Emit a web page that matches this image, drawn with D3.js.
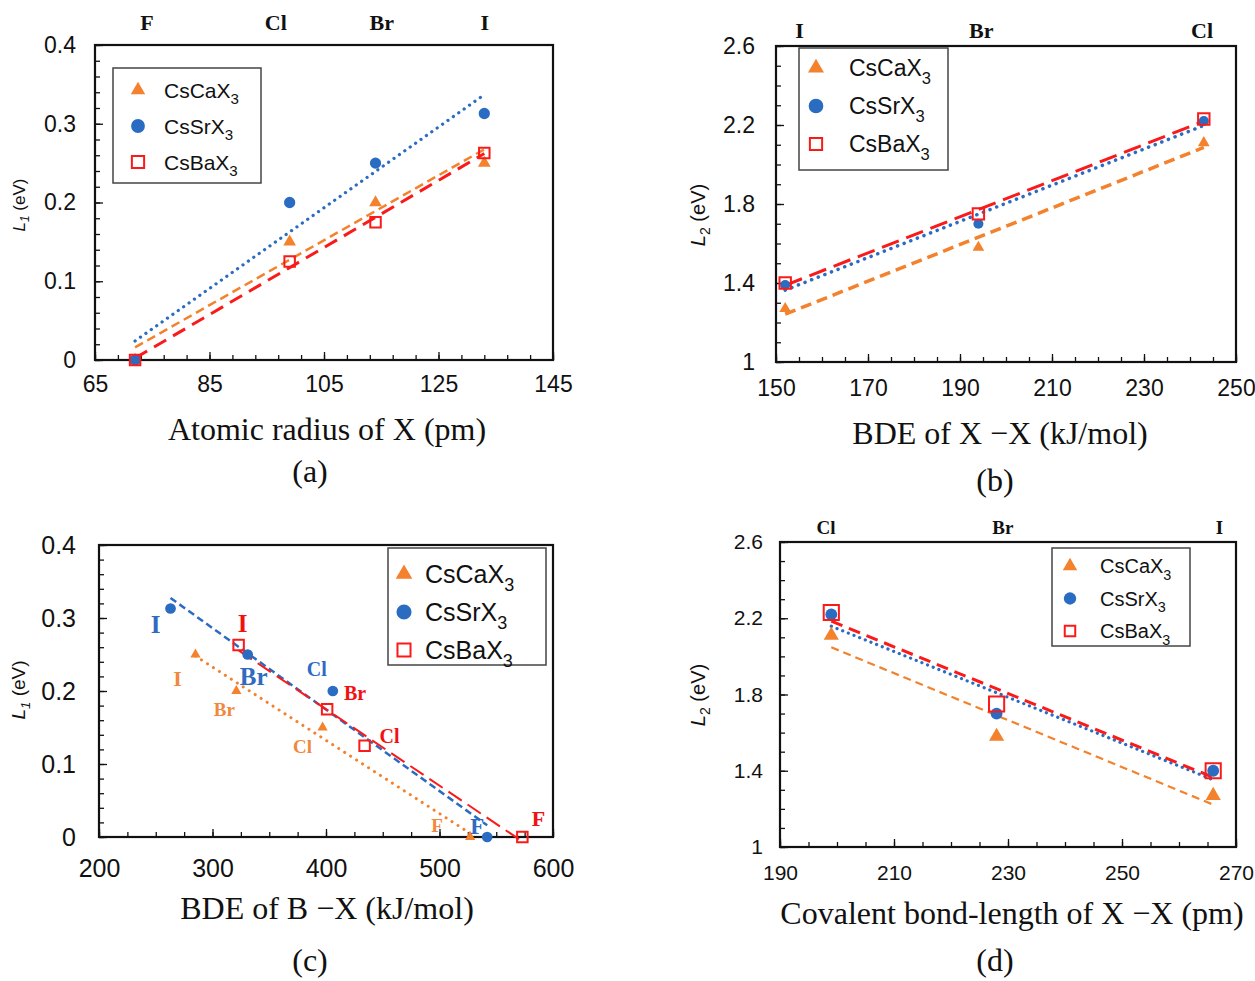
<!DOCTYPE html>
<html>
<head>
<meta charset="utf-8">
<script src="https://cdn.jsdelivr.net/npm/d3@7"></script>
<style>
  body { margin: 0; background: #fff; }
  svg { display: block; }
</style>
</head>
<body>
<div id="fig"></div>
<script>
// ---- data ----
const seriesNames = ['CsCaX', 'CsSrX', 'CsBaX'];

// (a) L1 vs atomic radius, order F, Cl, Br, I
const halogensFI = ['F', 'Cl', 'Br', 'I'];
const atomicRadius = [72, 99, 114, 133];
const L1Ca = [0, 0.15, 0.20, 0.25];
const L1Sr = [0, 0.20, 0.25, 0.313];
const L1Ba = [0, 0.125, 0.175, 0.263];

// (b) L2 vs BDE of X-X, order I, Br, Cl
const halogensIC = ['I', 'Br', 'Cl'];
const bdeXX = [152, 194, 243];
const L2Ca = [1.27, 1.58, 2.11];
const L2Sr = [1.39, 1.70, 2.22];
const L2Ba = [1.40, 1.75, 2.23];

// (c) L1 vs BDE of B-X, order F, Cl, Br, I
const bdeBXCa = [527, 397, 321, 285];
const bdeBXSr = [542, 406, 331, 263];
const bdeBXBa = [573, 434, 401, 323];

// (d) L2 vs covalent bond length, order Cl, Br, I
const halogensCI = ['Cl', 'Br', 'I'];
const bondLength = [199, 228, 266];
const L2CaD = [2.11, 1.58, 1.27];
const L2SrD = [2.22, 1.70, 1.40];
const L2BaD = [2.23, 1.75, 1.40];

// top-axis element label positions
const topTicksA = [74, 96.5, 115, 133];
const topTicksB = [155, 194.5, 242.5];
const topTicksD = [198, 229, 267];

// axis ticks
const xTicksA = [65, 85, 105, 125, 145];
const xTicksB = [150, 170, 190, 210, 230, 250];
const xTicksC = [200, 300, 400, 500, 600];
const xTicksD = [190, 210, 230, 250, 270];
const yTicksL1 = [0, 0.1, 0.2, 0.3, 0.4];
const yTicksL2 = [1, 1.4, 1.8, 2.2, 2.6];

// ---- styles ----
const ORANGE = '#f4812c', BLUE = '#2a6cc2', RED = '#fa1a1a';
const SANS = '"Liberation Sans", Arial, sans-serif';
const SERIF = '"Liberation Serif", "Times New Roman", serif';

const svg = d3.select('#fig').append('svg')
  .attr('width', 1255).attr('height', 981);

function fit(xs, ys) {
  const mx = d3.mean(xs), my = d3.mean(ys);
  let sxy = 0, sxx = 0;
  xs.forEach((v, i) => { sxy += (v - mx) * (ys[i] - my); sxx += (v - mx) * (v - mx); });
  const b = sxy / sxx;
  return v => my + b * (v - mx);
}

const fmt = d => String(+d.toFixed(2));

function marker(sel, kind, size, color) {
  const types = { tri: d3.symbolTriangle, cir: d3.symbolCircle, sq: d3.symbolSquare };
  sel.attr('d', d3.symbol().type(types[kind]).size(size))
    .attr('fill', kind === 'sq' ? 'none' : color)
    .attr('stroke', kind === 'sq' ? color : 'none')
    .attr('stroke-width', 2);
}

function panel(c) {
  const g = svg.append('g');
  const x = d3.scaleLinear().domain(c.xDomain).range([c.left, c.right]);
  const y = d3.scaleLinear().domain(c.yDomain).range([c.bottom, c.top]);

  // minor + major inner ticks
  const noDomain = a => a.select('.domain').remove();
  g.append('g').attr('transform', `translate(0,${c.bottom})`)
    .call(d3.axisBottom(x).tickValues(c.xMinor).tickSize(-5).tickFormat(''))
    .call(noDomain);
  g.append('g').attr('transform', `translate(${c.left},0)`)
    .call(d3.axisLeft(y).tickValues(c.yMinor).tickSize(-5).tickFormat(''))
    .call(noDomain);
  const xa = g.append('g').attr('transform', `translate(0,${c.bottom})`)
    .call(d3.axisBottom(x).tickValues(c.xTicks).tickSize(-8).tickPadding(c.xPad).tickFormat(fmt))
    .call(noDomain);
  const ya = g.append('g').attr('transform', `translate(${c.left},0)`)
    .call(d3.axisLeft(y).tickValues(c.yTicks).tickSize(-8).tickPadding(c.yPad).tickFormat(fmt))
    .call(noDomain);
  g.selectAll('.tick line').attr('stroke', '#111').attr('stroke-width', 1.3);
  [xa, ya].forEach(a => a.selectAll('text')
    .attr('font-family', SANS).attr('font-size', c.tickFont).attr('fill', '#111'));

  // top element labels
  const ta = g.append('g').attr('transform', `translate(0,${c.topY})`)
    .call(d3.axisTop(x).tickValues(c.topTicks).tickSize(0).tickPadding(0)
      .tickFormat((d, i) => c.topNames[i]))
    .call(noDomain);
  ta.selectAll('text').attr('font-family', SERIF).attr('font-weight', 'bold')
    .attr('font-size', c.topFont).attr('fill', '#111');

  // frame
  g.append('rect').attr('x', c.left).attr('y', c.top)
    .attr('width', c.right - c.left).attr('height', c.bottom - c.top)
    .attr('fill', 'none').attr('stroke', '#111').attr('stroke-width', 2.2);

  // trend lines
  c.series.forEach(s => {
    const f = fit(s.xs, s.ys);
    const ext = d3.extent(s.xs);
    g.append('path')
      .attr('d', d3.line().x(v => x(v)).y(v => y(f(v)))(ext))
      .attr('fill', 'none').attr('stroke', s.color)
      .attr('stroke-width', s.lw).attr('stroke-dasharray', s.dash)
      .attr('stroke-linecap', s.dot ? 'round' : 'butt');
  });

  // markers
  c.series.forEach(s => {
    g.append('g').selectAll('path').data(s.xs).join('path')
      .attr('transform', (v, i) => `translate(${x(v)},${y(s.ys[i])})`)
      .call(marker, s.kind, s.size, s.color);
  });

  // point annotations (panel c)
  if (c.notes) {
    c.series.forEach((s, k) => {
      const n = c.notes[k];
      g.append('g').selectAll('text').data(s.xs).join('text')
        .attr('x', (v, i) => x(v) + n.dx[i])
        .attr('y', (v, i) => y(s.ys[i]) + n.dy[i])
        .attr('text-anchor', 'middle').attr('dominant-baseline', 'central')
        .attr('font-family', SERIF).attr('font-weight', 'bold')
        .attr('font-size', (v, i) => n.fs[i]).attr('fill', n.color)
        .text((v, i) => halogensFI[i]);
    });
  }

  // legend
  const L = c.legend;
  g.append('rect').attr('x', L.x).attr('y', L.y).attr('width', L.w).attr('height', L.h)
    .attr('fill', '#fff').attr('stroke', '#444').attr('stroke-width', 1.5);
  c.series.forEach((s, i) => {
    const cy = L.y + L.first + i * L.step;
    g.append('path').attr('transform', `translate(${L.x + L.mx},${cy})`)
      .call(marker, s.kind, L.msize[i], s.color);
    const t = g.append('text').attr('x', L.x + L.tx).attr('y', cy + L.font * 0.36)
      .attr('font-family', SANS).attr('font-size', L.font).attr('fill', '#111');
    t.append('tspan').text(seriesNames[i]);
    t.append('tspan').attr('dy', L.font * 0.32).attr('font-size', L.font * 0.72).text('3');
  });

  // axis titles
  g.append('text').attr('x', c.xTitle[0]).attr('y', c.xTitle[1]).attr('text-anchor', 'middle')
    .attr('font-family', SERIF).attr('font-size', c.titleFont).attr('fill', '#111')
    .text(c.xLabel);
  g.append('text').attr('x', c.tag[0]).attr('y', c.tag[1]).attr('text-anchor', 'middle')
    .attr('font-family', SERIF).attr('font-size', 32).attr('fill', '#111')
    .text(c.tagText);
  const yt = g.append('text')
    .attr('transform', `translate(${c.yTitle[0]},${c.yTitle[1]}) rotate(-90)`)
    .attr('text-anchor', 'middle').attr('font-family', SANS)
    .attr('font-size', c.yFont).attr('fill', '#111');
  yt.append('tspan').attr('font-style', 'italic').text('L');
  yt.append('tspan').attr('font-style', c.subItalic ? 'italic' : 'normal')
    .attr('font-size', c.yFont * 0.7).attr('dy', c.yFont * 0.25).text(c.ySub);
  yt.append('tspan').attr('dy', -c.yFont * 0.25).text(' (eV)');
}

const dotted = '0.1 6.5';

// (a)
panel({
  left: 95, right: 553, top: 45, bottom: 360,
  xDomain: [65, 145], yDomain: [0, 0.4],
  xTicks: xTicksA, yTicks: yTicksL1,
  xMinor: d3.range(65, 145.1, 4), yMinor: d3.range(0, 0.401, 0.02),
  xPad: 16, yPad: 19, tickFont: 23,
  topTicks: topTicksA, topNames: halogensFI, topY: 30, topFont: 22,
  series: [
    { xs: atomicRadius, ys: L1Ca, kind: 'tri', size: 70, color: ORANGE, lw: 2.5, dash: '9 5' },
    { xs: atomicRadius, ys: L1Sr, kind: 'cir', size: 100, color: BLUE, lw: 3.2, dash: dotted, dot: true },
    { xs: atomicRadius, ys: L1Ba, kind: 'sq', size: 110, color: RED, lw: 3, dash: '14 8' }
  ],
  legend: { x: 113, y: 68, w: 148, h: 115, first: 22, step: 36, mx: 25, tx: 51, font: 21, msize: [90, 150, 150] },
  xLabel: 'Atomic radius of X (pm)', xTitle: [327, 440], titleFont: 32,
  tag: [310, 482], tagText: '(a)',
  yTitle: [25, 205], yFont: 17, ySub: '1', subItalic: true
});

// (b)
panel({
  left: 776, right: 1236, top: 46, bottom: 362,
  xDomain: [150, 250], yDomain: [1, 2.6],
  xTicks: xTicksB, yTicks: yTicksL2,
  xMinor: d3.range(150, 250.1, 5), yMinor: d3.range(1, 2.61, 0.1),
  xPad: 18, yPad: 21, tickFont: 23,
  topTicks: topTicksB, topNames: halogensIC, topY: 38, topFont: 22,
  series: [
    { xs: bdeXX, ys: L2Ca, kind: 'tri', size: 60, color: ORANGE, lw: 3.5, dash: '11 6' },
    { xs: bdeXX, ys: L2Sr, kind: 'cir', size: 80, color: BLUE, lw: 3.5, dash: '0.1 7', dot: true },
    { xs: bdeXX, ys: L2Ba, kind: 'sq', size: 130, color: RED, lw: 3, dash: '18 8' }
  ],
  legend: { x: 799, y: 48, w: 149, h: 122, first: 20, step: 38, mx: 17, tx: 50, font: 23, msize: [110, 170, 150] },
  xLabel: 'BDE of X \u2212X (kJ/mol)', xTitle: [1000, 444], titleFont: 32,
  tag: [995, 491], tagText: '(b)',
  yTitle: [705, 215], yFont: 20, ySub: '2', subItalic: false
});

// (c)
panel({
  left: 99, right: 553, top: 545, bottom: 837,
  xDomain: [200, 600], yDomain: [0, 0.4],
  xTicks: xTicksC, yTicks: yTicksL1,
  xMinor: d3.range(200, 600.1, 25), yMinor: d3.range(0, 0.401, 0.02),
  xPad: 22, yPad: 23, tickFont: 25,
  topTicks: [], topNames: [], topY: 540, topFont: 22,
  series: [
    { xs: bdeBXCa, ys: L1Ca, kind: 'tri', size: 45, color: ORANGE, lw: 3, dash: '0.1 7', dot: true },
    { xs: bdeBXSr, ys: L1Sr, kind: 'cir', size: 90, color: BLUE, lw: 2.5, dash: '7 4' },
    { xs: bdeBXBa, ys: L1Ba, kind: 'sq', size: 110, color: RED, lw: 2, dash: '16 7' }
  ],
  notes: [
    { color: '#f0883e', dx: [-33, -20, -12, -18], dy: [-12, 19, 18, 24], fs: [19, 19, 19, 22] },
    { color: '#2f6bbf', dx: [-10, -16, 6, -15], dy: [-11, -22, 22, 16], fs: [23, 20, 25, 25] },
    { color: '#f21010', dx: [16, 25, 28, 4], dy: [-19, -10, -16, -22], fs: [22, 20, 20, 25] }
  ],
  legend: { x: 388, y: 548, w: 158, h: 117, first: 26, step: 38, mx: 16, tx: 37, font: 25, msize: [120, 180, 170] },
  xLabel: 'BDE of B \u2212X (kJ/mol)', xTitle: [327, 919], titleFont: 32,
  tag: [310, 971], tagText: '(c)',
  yTitle: [25, 690], yFont: 19, ySub: '1', subItalic: true
});

// (d)
panel({
  left: 780, right: 1236, top: 542, bottom: 847,
  xDomain: [190, 270], yDomain: [1, 2.6],
  xTicks: xTicksD, yTicks: yTicksL2,
  xMinor: d3.range(190, 270.1, 5), yMinor: d3.range(1, 2.61, 0.1),
  xPad: 18, yPad: 17, tickFont: 21,
  topTicks: topTicksD, topNames: halogensCI, topY: 534, topFont: 19,
  series: [
    { xs: bondLength, ys: L2CaD, kind: 'tri', size: 100, color: ORANGE, lw: 2.2, dash: '8 5' },
    { xs: bondLength, ys: L2SrD, kind: 'cir', size: 110, color: BLUE, lw: 3.2, dash: '0.1 6', dot: true },
    { xs: bondLength, ys: L2BaD, kind: 'sq', size: 230, color: RED, lw: 3, dash: '12 7' }
  ],
  legend: { x: 1052, y: 548, w: 138, h: 98, first: 18, step: 32.5, mx: 18, tx: 48, font: 20, msize: [90, 120, 110] },
  xLabel: 'Covalent bond-length of X \u2212X (pm)', xTitle: [1012, 924], titleFont: 32,
  tag: [995, 971], tagText: '(d)',
  yTitle: [705, 695], yFont: 20, ySub: '2', subItalic: false
});
</script>
</body>
</html>
